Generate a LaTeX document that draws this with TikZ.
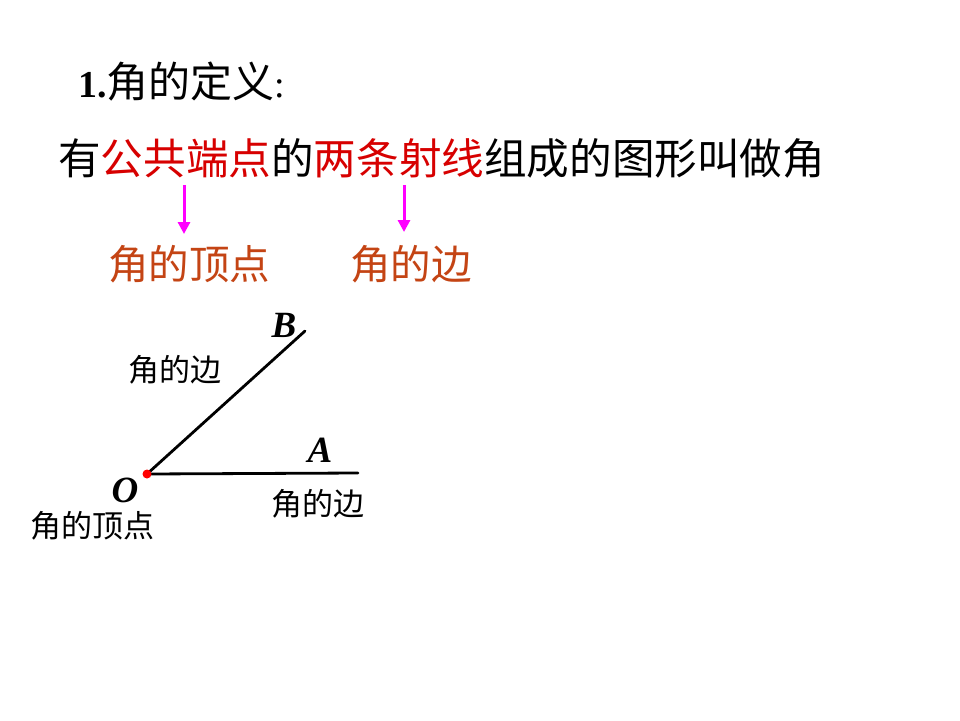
\documentclass[tikz,border=0pt]{standalone}
\usepackage{fontspec}
\setmainfont{Liberation Serif}
\newfontfamily\cjk{Noto Sans CJK SC}
\usetikzlibrary{arrows.meta}
\definecolor{redtxt}{RGB}{215,0,0}
\definecolor{brown}{RGB}{196,68,20}
\definecolor{mag}{RGB}{255,0,255}
\tikzset{
  big/.style={font=\cjk\fontsize{42.6}{50}\selectfont, inner sep=0pt},
  lbl/.style={font=\cjk\fontsize{40.5}{48}\selectfont, text=brown, inner sep=0pt},
  small/.style={font=\cjk\fontsize{31}{36}\selectfont, inner sep=0pt},
  pt/.style={font=\fontsize{37}{44}\selectfont\bfseries\itshape, inner sep=0pt},
  marr/.style={draw=mag, line width=3pt, -{Triangle[length=12pt,width=12pt]}},
  ray/.style={line width=2.8pt, line cap=round}
}
\newcommand{\rd}[1]{\textcolor{redtxt}{#1}}
\begin{document}
\begin{tikzpicture}[x=1pt,y=-1pt]
\useasboundingbox (0,0) rectangle (960,720);
\fill[white] (0,0) rectangle (960,720);
\node[anchor=west, inner sep=0pt, font=\fontsize{38}{44}\selectfont] (title) at (78,82) {\textbf{1.}{\cjk\fontsize{42}{48}\selectfont 角的定义}:};
\node[big, anchor=west] (def) at (58,158) {有\rd{公共端点}的\rd{两条射线}组成的图形叫做角};
\node[lbl, anchor=west] (vertex) at (108,264) {角的顶点};
\node[lbl, anchor=west] (side) at (350,264) {角的边};
\coordinate (a1s) at (184,185);
\coordinate (a1e) at (184,234);
\coordinate (a2s) at (404,185);
\coordinate (a2e) at (404,232);
\draw[marr] (a1s) -- (a1e);
\draw[marr] (a2s) -- (a2e);
\coordinate (O) at (147,474);
\coordinate (A) at (358,473);
\coordinate (B) at (305,331);
\draw[ray] (O) -- (B);
\draw[ray] (O) -- (A);
\fill[red] (O) circle (4.5);
\node[pt] (Bl) at (284,325) {B};
\node[pt] (Al) at (320,450) {A};
\node[pt] (Ol) at (125,490) {O};
\node[small, anchor=west] (s1) at (128,370) {角的边};
\node[small, anchor=west] (s2) at (271,504) {角的边};
\node[small, anchor=west] (s3) at (30,526) {角的顶点};
\end{tikzpicture}
\end{document}
